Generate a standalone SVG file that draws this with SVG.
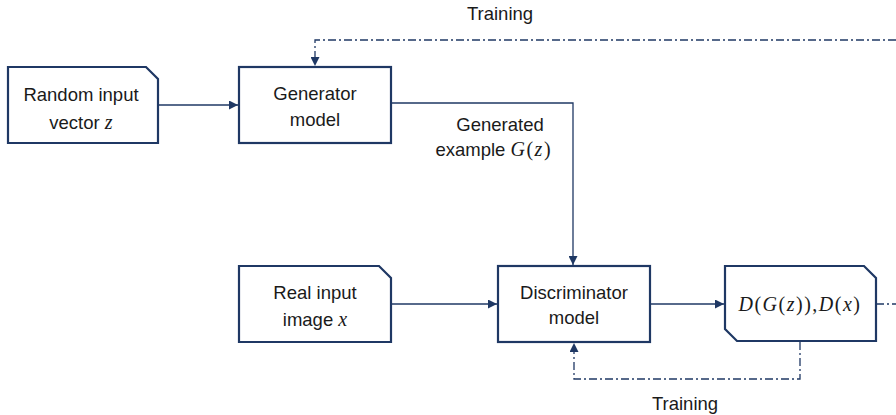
<svg xmlns="http://www.w3.org/2000/svg" width="896" height="415" viewBox="0 0 896 415">
<defs>
<style>
.box{fill:#fff;stroke:#1f3864;stroke-width:2.2}
.ln{fill:none;stroke:#1f3864;stroke-width:1.3}
.dd{fill:none;stroke:#1f3864;stroke-width:1.3;stroke-dasharray:8 3 2 3}
.t{font-family:"Liberation Sans",Arial,sans-serif;font-size:18.5px;fill:#1a1a1a;text-anchor:middle}
.m{font-family:"Liberation Serif","Times New Roman",serif;font-style:italic;font-size:20px}
.p{font-family:"Liberation Serif","Times New Roman",serif;font-style:normal;font-size:20px}
.f{letter-spacing:1.5px}
</style>
<marker id="ah" viewBox="0 0 10 10" refX="10" refY="5" markerWidth="9" markerHeight="9" markerUnits="userSpaceOnUse" orient="auto">
<path d="M0,0 L10,5 L0,10 z" fill="#1f3864"/>
</marker>
</defs>
<g id="connectors">
<line class="ln" x1="158" y1="105" x2="238" y2="105" marker-end="url(#ah)"/>
<polyline class="ln" points="391,103 573,103 573,265" marker-end="url(#ah)"/>
<line class="ln" x1="391" y1="304" x2="497" y2="304" marker-end="url(#ah)"/>
<line class="ln" x1="650" y1="304" x2="724" y2="304" marker-end="url(#ah)"/>
<polyline class="dd" points="896,40 315,40 315,66" marker-end="url(#ah)"/>
<line class="dd" x1="876" y1="304" x2="896" y2="304"/>
<polyline class="dd" points="800,342 800,379 574,379 574,343" marker-end="url(#ah)"/>
</g>
<g id="label-training-top"><text class="t" x="500" y="20">Training</text></g>
<g id="label-training-bottom"><text class="t" x="685" y="410">Training</text></g>
<g id="label-generated">
<text class="t" x="500" y="131">Generated</text>
<text class="t" x="493" y="156">example <tspan class="m f">G</tspan><tspan class="p f">(</tspan><tspan class="m f">z</tspan><tspan class="p">)</tspan></text>
</g>
<g id="random">
<path class="box" d="M8,67 H146 L158,79 V143 H8 Z"/>
<text class="t" x="81" y="101">Random input</text>
<text class="t" x="81" y="129">vector <tspan class="m">z</tspan></text>
</g>
<g id="generator">
<rect class="box" x="239" y="67" width="152" height="76"/>
<text class="t" x="315" y="100">Generator</text>
<text class="t" x="315" y="126">model</text>
</g>
<g id="real">
<path class="box" d="M239,266 H379 L391,278 V342 H239 Z"/>
<text class="t" x="315" y="299">Real input</text>
<text class="t" x="315" y="326">image <tspan class="m">x</tspan></text>
</g>
<g id="discriminator">
<rect class="box" x="498" y="266" width="152" height="76"/>
<text class="t" x="574" y="299">Discriminator</text>
<text class="t" x="574" y="324">model</text>
</g>
<g id="output">
<path class="box" d="M725,266 H864 L876,278 V341 H737 L725,329 Z"/>
<text class="t f" x="800" y="311"><tspan class="m">D</tspan><tspan class="p">(</tspan><tspan class="m">G</tspan><tspan class="p">(</tspan><tspan class="m">z</tspan><tspan class="p">)),</tspan><tspan class="m">D</tspan><tspan class="p">(</tspan><tspan class="m">x</tspan><tspan class="p">)</tspan></text>
</g>
</svg>
